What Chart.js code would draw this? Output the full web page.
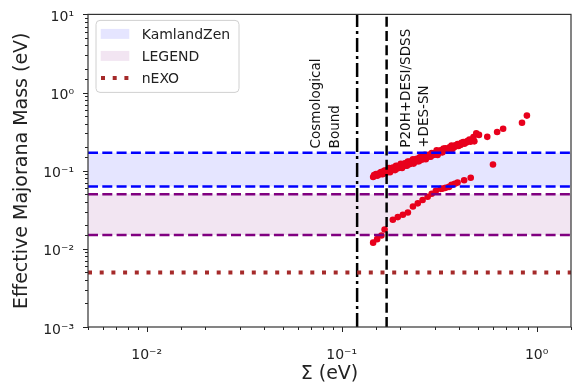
<!DOCTYPE html>
<html><head><meta charset="utf-8">
<script src="https://cdn.jsdelivr.net/npm/chart.js@4"></script>
<style>html,body{margin:0;padding:0;background:#fff}#wrap{width:583px;height:385px}</style>
</head><body><div id="wrap"><canvas id="c"></canvas></div>
<script>
const xRange = [0.005, 1.5];
const yRange = [0.001, 10];
const xTickValues = [0.01, 0.1, 1];
const xTickLabels = ['10⁻²', '10⁻¹', '10⁰'];
const yTickValues = [0.001, 0.01, 0.1, 1, 10];
const yTickLabels = ['10⁻³', '10⁻²', '10⁻¹', '10⁰', '10¹'];
const seriesLabels = ['KamlandZen', 'LEGEND', 'nEXO'];
const kamlandZen = [0.063, 0.17];
const legendBand = [0.015, 0.05];
const nEXO = 0.005;
const cosmologicalBound = 0.12;
const desiBound = 0.17;
const xTitle = 'Σ (eV)';
const yTitle = 'Effective Majorana Mass (eV)';

const upperX = [0.145,0.150,0.154,0.159,0.163,0.167,0.171,0.175,0.179,0.183,0.188,0.192,0.197,0.201,0.206,0.211,0.216,0.221,0.226,0.232,0.237,0.243,0.249,0.254,0.260,0.267,0.273,0.279,0.286,0.293,0.300,0.307,0.314,0.322,0.329,0.341,0.353,0.366,0.379,0.393,0.407,0.421,0.436,0.452,0.474,0.490,0.506,0.558,0.627,0.673,0.841,0.891,0.597];
const upperY = [0.0830,0.0906,0.0880,0.0960,0.0906,0.1003,0.0960,0.1078,0.1003,0.1094,0.1018,0.1143,0.1094,0.1229,0.1143,0.1247,0.1160,0.1302,0.1247,0.1400,0.1302,0.1421,0.1321,0.1484,0.1421,0.1596,0.1484,0.1596,0.1506,0.1667,0.1619,0.1819,0.1691,0.1819,0.1717,0.1928,0.1873,0.2102,0.2013,0.2196,0.2133,0.2328,0.2295,0.2503,0.2692,0.300,0.287,0.271,0.313,0.344,0.410,0.507,0.120];
const upper2X = [0.1467,0.152,0.156,0.161,0.165,0.169,0.173,0.177,0.181,0.185,0.190,0.194,0.199,0.204,0.2085,0.2135,0.2185,0.224,0.229,0.234,0.240,0.2457,0.2515,0.2575,0.2636,0.270,0.276,0.283,0.2895,0.296,0.304,0.3105,0.318,0.325,0.333,0.345,0.3575,0.370,0.383,0.397,0.4115,0.426,0.441,0.457,0.479];
const upper2Y = [0.0880,0.0860,0.0925,0.0903,0.1000,0.0944,0.1029,0.0954,0.1072,0.1026,0.1153,0.1072,0.1166,0.1085,0.1218,0.1166,0.1310,0.1215,0.1325,0.1233,0.1384,0.1325,0.1484,0.1380,0.1506,0.1400,0.1573,0.1524,0.1687,0.1592,0.1711,0.1592,0.1782,0.1731,0.1916,0.1819,0.1995,0.1900,0.2115,0.2067,0.2268,0.2216,0.2403,0.2348,0.2375];
const lowerX = [0.145,0.152,0.160,0.166,0.183,0.194,0.206,0.2185,0.232,0.2457,0.260,0.276,0.2895,0.304,0.322,0.330,0.341,0.355,0.366,0.380,0.393,0.4246,0.459];
const lowerY = [0.0120,0.0133,0.0148,0.0177,0.0236,0.0255,0.0273,0.0292,0.0348,0.0382,0.0422,0.0465,0.0507,0.0553,0.0586,0.0590,0.0603,0.0620,0.0658,0.0680,0.0704,0.0755,0.0814];

const annotations = [
  {lines: ['Cosmological', 'Bound'], x: 0.067, y: 0.193},
  {lines: ['P20H+DESI/SDSS', '+DES-SN'], x: 0.192, y: 0.197}
];

const FONT = '"DejaVu Sans", sans-serif';
const POINT_COLOR = '#e8001c';
const hline = (y) => [{x: xRange[0], y}, {x: xRange[1], y}];
const vline = (x) => [{x, y: yRange[0]}, {x, y: yRange[1]}];
const pts = (xs, ys) => xs.map((x, i) => ({x, y: ys[i]}));
const isPow10 = (v) => Math.abs(Math.log10(v) - Math.round(Math.log10(v))) < 1e-9;
const lookup = (vals, labels, v) => { const i = vals.findIndex(t => Math.abs(Math.log10(t) - Math.log10(v)) < 1e-9); return i >= 0 ? labels[i] : ''; };

const base = {pointRadius: 0, pointHoverRadius: 0, tension: 0, fill: false, order: 0};
const scatterBase = {showLine: false, pointRadius: 3.3, pointHoverRadius: 3.3, pointBorderWidth: 0, pointBackgroundColor: POINT_COLOR, borderColor: POINT_COLOR, order: 10};
const datasets = [
  Object.assign({}, base, {label: seriesLabels[0], data: hline(kamlandZen[1]), borderColor: '#0000ff', borderWidth: 2.5, borderDash: [10, 4.3], fill: '+1', backgroundColor: 'rgba(0,0,255,0.1)', legendType: 'patch'}),
  Object.assign({}, base, {label: '_k', data: hline(kamlandZen[0]), borderColor: '#0000ff', borderWidth: 2.5, borderDash: [10, 4.3]}),
  Object.assign({}, base, {label: seriesLabels[1], data: hline(legendBand[1]), borderColor: '#800080', borderWidth: 2.5, borderDash: [10, 4.3], fill: '+1', backgroundColor: 'rgba(128,0,128,0.1)', legendType: 'patch'}),
  Object.assign({}, base, {label: '_l', data: hline(legendBand[0]), borderColor: '#800080', borderWidth: 2.5, borderDash: [10, 4.3]}),
  Object.assign({}, base, {label: seriesLabels[2], data: hline(nEXO), borderColor: '#a52a2a', borderWidth: 4, borderDash: [4, 7.7], borderCapStyle: 'butt', legendType: 'line'}),
  Object.assign({}, base, {label: '_c', data: vline(cosmologicalBound), borderColor: '#000', borderWidth: 2.5, borderDash: [14, 4, 3, 4]}),
  Object.assign({}, base, {label: '_d', data: vline(desiBound), borderColor: '#000', borderWidth: 2.5, borderDash: [10, 4.3]}),
  Object.assign({}, scatterBase, {label: '_u', data: pts(upperX, upperY)}),
  Object.assign({}, scatterBase, {label: '_u2', data: pts(upper2X, upper2Y)}),
  Object.assign({}, scatterBase, {label: '_w', data: pts(lowerX, lowerY)})
];

const decorPlugin = {
  id: 'decor',
  afterDatasetsDraw(chart) {
    const ctx = chart.ctx, a = chart.chartArea;
    const xs = chart.scales.x, ys = chart.scales.y;
    ctx.save();
    ctx.strokeStyle = '#222'; ctx.lineWidth = 1;
    xs.ticks.forEach(t => {
      const p = Math.round(xs.getPixelForValue(t.value)) + 0.5;
      if (p < a.left - 0.5 || p > a.right + 0.5) return;
      const len = isPow10(t.value) ? 5 : 3;
      ctx.beginPath(); ctx.moveTo(p, a.bottom); ctx.lineTo(p, a.bottom + len); ctx.stroke();
    });
    ys.ticks.forEach(t => {
      const p = Math.round(ys.getPixelForValue(t.value)) + 0.5;
      if (p < a.top - 0.5 || p > a.bottom + 0.5) return;
      const len = isPow10(t.value) ? 5 : 3;
      ctx.beginPath(); ctx.moveTo(a.left, p); ctx.lineTo(a.left - len, p); ctx.stroke();
    });
    ctx.strokeStyle = '#333'; ctx.lineWidth = 1.2;
    ctx.strokeRect(a.left, a.top, a.right - a.left, a.bottom - a.top);
    ctx.fillStyle = '#111'; ctx.font = '13.5px ' + FONT;
    ctx.textAlign = 'left'; ctx.textBaseline = 'middle';
    const lh = 18.4;
    annotations.forEach(an => {
      const x0 = xs.getPixelForValue(an.x), y0 = ys.getPixelForValue(an.y);
      an.lines.forEach((ln, i) => {
        ctx.save();
        ctx.translate(x0 + lh * (i + 0.5), y0);
        ctx.rotate(-Math.PI / 2);
        ctx.fillText(ln, 0, 0);
        ctx.restore();
      });
    });
    const bx = a.left + 8, by = a.top + 6, bw = 143, bh = 72, r = 4;
    ctx.beginPath();
    ctx.moveTo(bx + r, by); ctx.lineTo(bx + bw - r, by); ctx.quadraticCurveTo(bx + bw, by, bx + bw, by + r);
    ctx.lineTo(bx + bw, by + bh - r); ctx.quadraticCurveTo(bx + bw, by + bh, bx + bw - r, by + bh);
    ctx.lineTo(bx + r, by + bh); ctx.quadraticCurveTo(bx, by + bh, bx, by + bh - r);
    ctx.lineTo(bx, by + r); ctx.quadraticCurveTo(bx, by, bx + r, by);
    ctx.closePath();
    ctx.fillStyle = 'rgba(255,255,255,0.85)'; ctx.fill();
    ctx.strokeStyle = '#d0d0d0'; ctx.lineWidth = 1; ctx.stroke();
    const items = chart.data.datasets.filter(d => d.legendType);
    items.forEach((d, i) => {
      const cy = by + 13.5 + i * 22;
      if (d.legendType === 'patch') {
        ctx.fillStyle = d.backgroundColor;
        ctx.fillRect(bx + 4.7, cy - 5, 28.6, 10);
      } else {
        ctx.save();
        ctx.strokeStyle = d.borderColor; ctx.lineWidth = d.borderWidth;
        ctx.setLineDash(d.borderDash); ctx.lineCap = 'butt';
        ctx.beginPath(); ctx.moveTo(bx + 5, cy); ctx.lineTo(bx + 33.3, cy); ctx.stroke();
        ctx.restore();
      }
      ctx.fillStyle = '#222'; ctx.font = '14px ' + FONT;
      ctx.textAlign = 'left'; ctx.textBaseline = 'middle';
      ctx.fillText(d.label, bx + 45.7, cy + 1);
    });
    ctx.restore();
  }
};

new Chart(document.getElementById('c'), {
  type: 'line',
  data: {datasets},
  options: {
    responsive: true, maintainAspectRatio: false, animation: false, events: [],
    devicePixelRatio: 1,
    layout: {padding: {left: 0, right: 7, top: 10, bottom: 0}},
    plugins: {legend: {display: false}, tooltip: {enabled: false}, filler: {drawTime: 'beforeDatasetsDraw'}},
    scales: {
      x: {
        type: 'logarithmic', min: xRange[0], max: xRange[1],
        grid: {display: false}, border: {display: false},
        ticks: {autoSkip: false, maxRotation: 0, padding: 12, color: '#222', font: {family: FONT, size: 14},
          callback: (v) => lookup(xTickValues, xTickLabels, v)},
        title: {display: true, text: xTitle, color: '#222', font: {family: FONT, size: 19}, padding: 0},
        afterFit: (s) => { s.height = 58; }
      },
      y: {
        type: 'logarithmic', min: yRange[0], max: yRange[1],
        grid: {display: false}, border: {display: false},
        ticks: {autoSkip: false, padding: 6, labelOffset: 3, color: '#222', font: {family: FONT, size: 14},
          callback: (v) => lookup(yTickValues, yTickLabels, v)},
        title: {display: true, text: yTitle, color: '#222', font: {family: FONT, size: 19}, padding: {top: 11, bottom: 11}},
        afterFit: (s) => { s.width = 88; }
      }
    }
  },
  plugins: [decorPlugin]
});
</script></body></html>
